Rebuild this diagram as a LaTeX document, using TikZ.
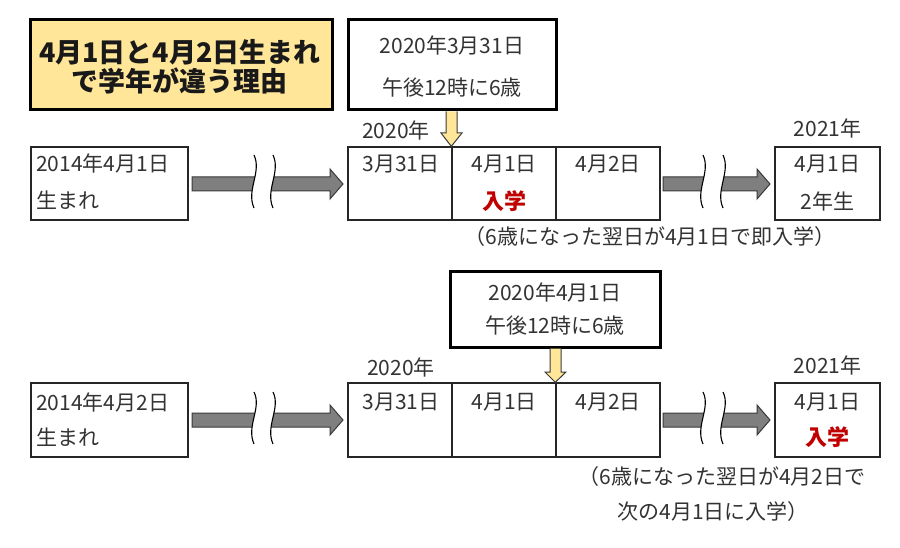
\documentclass[tikz,border=0pt]{standalone}
\usepackage{fontspec}
\setmainfont{Noto Sans CJK JP}
\usetikzlibrary{calc}
\definecolor{titlefill}{HTML}{FFE699}
\definecolor{txt}{HTML}{333333}
\definecolor{redtxt}{HTML}{C00000}
\definecolor{arrowgray}{HTML}{7F7F7F}
\definecolor{arrowline}{HTML}{3A3A3A}
\tikzset{
  x=1pt, y=-1pt,
  box/.style={draw=black!85, line width=1.4pt, rectangle, inner sep=0pt},
  thickbox/.style={draw=black, line width=3pt, rectangle, inner sep=0pt},
  lbl/.style={text=txt, font=\fontsize{21}{24}\selectfont, inner sep=0pt},
  redlbl/.style={text=redtxt, font=\fontsize{22}{24}\selectfont\bfseries, inner sep=0pt},
  grayarrow/.style={fill=arrowgray, draw=arrowline, line width=1pt, line join=miter},
  yelarrow/.style={fill=titlefill, draw=arrowline, line width=1pt, line join=miter},
  squig/.style={draw=black, line width=1.1pt},
}
\begin{document}
\begin{tikzpicture}
\useasboundingbox[fill=white] (0,0) rectangle (900,548);

% title
\node[thickbox, fill=titlefill, minimum width=302pt, minimum height=90pt] (title) at (181,65) {};
\node[inner sep=0pt, align=center, text=black!90, font=\fontsize{27}{29}\selectfont\bfseries] (titletxt) at (180,67) {4月1日と4月2日生まれ\\で学年が違う理由};

% ===== row 1 =====
\node[thickbox, fill=white, minimum width=208pt, minimum height=90pt] (c1) at (452,65) {};
\node[lbl] (c1a) at (452,45) {2020年3月31日};
\node[lbl] (c1b) at (452,88) {午後12時に6歳};

\node[box, minimum width=157pt, minimum height=73pt] (a1) at (109.5,183.5) {};
\node[lbl, anchor=west] (a1t) at (36,163) {2014年4月1日};
\node[lbl, anchor=west] (a1b) at (36,200) {生まれ};

\node[box, minimum width=104pt, minimum height=73pt] (p1) at (400,183.5) {};
\node[box, minimum width=104pt, minimum height=73pt] (q1) at (504,183.5) {};
\node[box, minimum width=104pt, minimum height=73pt] (s1) at (608,183.5) {};
\node[lbl] (p1t) at (401,164) {3月31日};
\node[lbl] (q1t) at (504,164) {4月1日};
\node[redlbl] (q1b) at (504,201) {入学};
\node[lbl] (s1t) at (608,164) {4月2日};
\node[lbl] (y1) at (396,130) {2020年};

\node[box, minimum width=105pt, minimum height=73pt] (r1) at (827.5,183.5) {};
\node[lbl] (r1t) at (827.5,164) {4月1日};
\node[lbl] (r1b) at (827.5,201) {2年生};
\node[lbl] (z1) at (827.5,128) {2021年};

\node[lbl] (n1) at (650,237) {（6歳になった翌日が4月1日で即入学）};

% yellow arrow row 1
\draw[yelarrow] (c1.south -| 446,0) -- (446,133) -- (441,133) -- (q1.north west) -- (462,133) -- (457,133) -- (c1.south -| 457,0);

% gray arrows row 1
\draw[grayarrow] (192,177) -- (330,177) -- (330,169) -- (343,184) -- (330,199) -- (330,191) -- (192,191) -- cycle;
\fill[white] (254,152) .. controls (262,172) and (246,190) .. (254,211) -- (273,211) .. controls (265,190) and (281,172) .. (273,152) -- cycle;
\draw[squig] (254,155) .. controls (262,172) and (246,190) .. (254,208);
\draw[squig] (273,155) .. controls (281,172) and (265,190) .. (273,208);

\draw[grayarrow] (663,177) -- (757,177) -- (757,169) -- (770,184) -- (757,199) -- (757,191) -- (663,191) -- cycle;
\fill[white] (703,152) .. controls (711,172) and (695,190) .. (703,211) -- (723,211) .. controls (715,190) and (731,172) .. (723,152) -- cycle;
\draw[squig] (703,155) .. controls (711,172) and (695,190) .. (703,208);
\draw[squig] (723,155) .. controls (731,172) and (715,190) .. (723,208);

% ===== row 2 =====
\node[thickbox, fill=white, minimum width=210pt, minimum height=75pt] (c2) at (555,309.5) {};
\node[lbl] (c2a) at (555,292) {2020年4月1日};
\node[lbl] (c2b) at (555,326) {午後12時に6歳};

\node[box, minimum width=157pt, minimum height=74pt] (a2) at (109.5,420) {};
\node[lbl, anchor=west] (a2t) at (36,402) {2014年4月2日};
\node[lbl, anchor=west] (a2b) at (36,437) {生まれ};

\node[box, minimum width=104pt, minimum height=74pt] (p2) at (400,420) {};
\node[box, minimum width=104pt, minimum height=74pt] (q2) at (504,420) {};
\node[box, minimum width=104pt, minimum height=74pt] (s2) at (608,420) {};
\node[lbl] (p2t) at (401,402) {3月31日};
\node[lbl] (q2t) at (504,402) {4月1日};
\node[lbl] (s2t) at (608,402) {4月2日};
\node[lbl] (y2) at (401,367) {2020年};

\node[box, minimum width=105pt, minimum height=74pt] (r2) at (827.5,420) {};
\node[lbl] (r2t) at (827.5,402) {4月1日};
\node[redlbl] (r2b) at (827.5,437) {入学};
\node[lbl] (z2) at (827.5,365) {2021年};

\node[lbl] (n2a) at (722,477) {（6歳になった翌日が4月2日で};
\node[lbl] (n2b) at (713,512) {次の4月1日に入学）};

% yellow arrow row 2
\draw[yelarrow] (c2.south -| 550,0) -- (550,372) -- (545,372) -- (s2.north west) -- (566,372) -- (561,372) -- (c2.south -| 561,0);

% gray arrows row 2
\draw[grayarrow] (192,413) -- (330,413) -- (330,405) -- (343,420) -- (330,435) -- (330,427) -- (192,427) -- cycle;
\fill[white] (254,389) .. controls (262,408) and (246,426) .. (254,447) -- (273,447) .. controls (265,426) and (281,408) .. (273,389) -- cycle;
\draw[squig] (254,392) .. controls (262,408) and (246,426) .. (254,444);
\draw[squig] (273,392) .. controls (281,408) and (265,426) .. (273,444);

\draw[grayarrow] (663,413) -- (757,413) -- (757,405) -- (770,420) -- (757,435) -- (757,427) -- (663,427) -- cycle;
\fill[white] (703,389) .. controls (711,408) and (695,426) .. (703,447) -- (723,447) .. controls (715,426) and (731,408) .. (723,389) -- cycle;
\draw[squig] (703,392) .. controls (711,408) and (695,426) .. (703,444);
\draw[squig] (723,392) .. controls (731,408) and (715,426) .. (723,444);
\end{tikzpicture}
\end{document}
